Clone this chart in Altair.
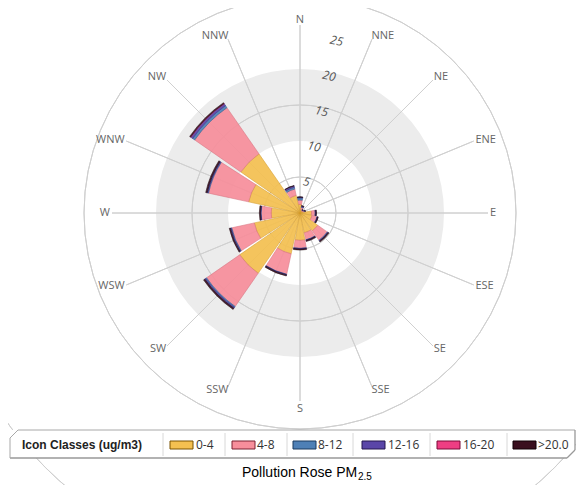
import math
import altair as alt
import pandas as pd

# ---------------- data ----------------
directions = ["N", "NNE", "NE", "ENE", "E", "ESE", "SE", "SSE",
              "S", "SSW", "SW", "WSW", "W", "WNW", "NW", "NNW"]
classes = ["0-4", "4-8", "8-12", "12-16", "16-20", ">20.0"]
class_fill = ["#F4C050", "#F78E9B", "#4E80B6", "#5A46A8", "#EE3E83", "#3A0F1E"]
class_edge = ["#D49A28", "#D9707E", "#2F5E90", "#3C2A86", "#C02060", "#1E0610"]
swatch_edge = ["#7A5200", "#7A2030", "#1A3A5E", "#24164F", "#7A0A38", "#100005"]

c_0_4 = [1.2, 0.5, 0.3, 0.4, 1.6, 1.7, 3.0, 2.8, 3.8, 5.8, 10.2, 6.5, 4.0, 7.3, 10.0, 2.5]
c_4_8 = [0.6, 0.3, 0.15, 0.2, 0.5, 0.7, 1.6, 1.0, 1.1, 2.9, 5.6, 3.2, 1.4, 5.7, 7.8, 0.9]
c_8_12 = [0.3, 0.1, 0.05, 0.05, 0.05, 0.05, 0.1, 0.05, 0.05, 0.05, 0.15, 0.1, 0.05, 0.1, 0.35, 0.25]
c_12_16 = [0.1, 0.1, 0.05, 0.1, 0.05, 0.05, 0.05, 0.05, 0.05, 0.05, 0.15, 0.1, 0.05, 0.1, 0.3, 0.2]
c_16_20 = [0, 0, 0, 0, 0, 0, 0, 0, 0, 0, 0, 0, 0, 0, 0.05, 0]
c_gt_20 = [0.05, 0.05, 0.05, 0.05, 0.1, 0.1, 0.15, 0.15, 0.15, 0.15, 0.2, 0.15, 0.15, 0.2, 0.15, 0.05]

ring_values = [5, 10, 15, 20, 25]
ring_labels = ["5", "10", "15", "20", "25"]

# ---------------- layout constants ----------------
CX, CY = 292, 205          # rose centre (chart coords)
R = 180                    # pixel radius of 25
RMAX = 25
PAD = 1.0                  # angular gap per side (deg)
px = RMAX / R              # units per pixel

series = [c_0_4, c_4_8, c_8_12, c_12_16, c_16_20, c_gt_20]
rows = []
for i, d in enumerate(directions):
    base = 0.0
    for k, cls in enumerate(classes):
        v = series[k][i]
        if v <= 0:
            continue
        rows.append({"dir": d, "cls": cls, "t0": i * 22.5 - 11.25 + PAD,
                     "t1": i * 22.5 + 11.25 - PAD, "r0": base, "r1": base + v})
        base += v
seg = pd.DataFrame(rows)

dirs = pd.DataFrame({"dir": directions, "ang": [i * 22.5 for i in range(16)]})
rings = pd.DataFrame({"r": ring_values, "lab": ring_labels})

theta_scale = alt.Scale(domain=[0, 360], range=[0, 2 * math.pi])
rad_scale = alt.Scale(type="linear", domain=[0, RMAX], range=[0, R], zero=True)
cx, cy = alt.value(CX), alt.value(CY)

band = alt.Chart(alt.Data(values=[{}])).mark_arc(
    theta=0, theta2=2 * math.pi, fill="#ececec", stroke=None
).encode(x=cx, y=cy, radius=alt.Radius(datum=20, scale=rad_scale),
         radius2=alt.Radius2(datum=10))

ring_lines = alt.Chart(rings).mark_arc(
    theta=0, theta2=2 * math.pi, filled=False, stroke="#cfcfcf", strokeWidth=1
).encode(x=cx, y=cy, radius=alt.Radius("r:Q", scale=rad_scale))

spokes = alt.Chart(dirs).mark_arc(
    filled=False, stroke="#d0d0d0", strokeWidth=1
).encode(x=cx, y=cy,
         theta=alt.Theta("ang:Q", stack=None, scale=theta_scale),
         theta2="ang:Q",
         radius=alt.Radius(datum=RMAX + 8 * px, scale=rad_scale))

bars = alt.Chart(seg).mark_arc(strokeWidth=0.6, opacity=0.92).encode(
    x=cx, y=cy,
    theta=alt.Theta("t0:Q", stack=None, scale=theta_scale),
    theta2="t1:Q",
    radius=alt.Radius("r1:Q", scale=rad_scale),
    radius2="r0:Q",
    fill=alt.Fill("cls:N", scale=alt.Scale(domain=classes, range=class_fill), legend=None),
    stroke=alt.Stroke("cls:N", scale=alt.Scale(domain=classes, range=class_edge), legend=None),
)

ring_text = alt.Chart(rings).mark_text(
    font="Open Sans", fontStyle="italic", fontSize=12, color="#555555", angle=12,
    radiusOffset=-4
).encode(x=cx, y=cy,
         theta=alt.Theta(datum=12, stack=None, scale=theta_scale),
         radius=alt.Radius("r:Q", scale=rad_scale), text="lab:N")

lab_r = RMAX + 12 * px
dir_font = dict(font="Open Sans", fontSize=11, color="#666666")
right_lab = alt.Chart(dirs).transform_filter("datum.ang > 0 && datum.ang < 180").mark_text(
    align="left", baseline="middle", dx=-2, **dir_font
).encode(x=cx, y=cy, theta=alt.Theta("ang:Q", stack=None, scale=theta_scale),
         radius=alt.Radius(datum=lab_r, scale=rad_scale), text="dir:N")
left_lab = alt.Chart(dirs).transform_filter("datum.ang > 180").mark_text(
    align="right", baseline="middle", dx=2, **dir_font
).encode(x=cx, y=cy, theta=alt.Theta("ang:Q", stack=None, scale=theta_scale),
         radius=alt.Radius(datum=lab_r, scale=rad_scale), text="dir:N")
n_lab = alt.Chart(dirs).transform_filter("datum.ang == 0").mark_text(
    align="center", baseline="bottom", dy=4, **dir_font
).encode(x=cx, y=cy, theta=alt.Theta("ang:Q", stack=None, scale=theta_scale),
         radius=alt.Radius(datum=lab_r, scale=rad_scale), text="dir:N")
s_lab = alt.Chart(dirs).transform_filter("datum.ang == 180").mark_text(
    align="center", baseline="top", dy=-2, **dir_font
).encode(x=cx, y=cy, theta=alt.Theta("ang:Q", stack=None, scale=theta_scale),
         radius=alt.Radius(datum=lab_r, scale=rad_scale), text="dir:N")

# ---------------- legend box ----------------
one = alt.Data(values=[{}])
L, Rt, T, B, CH = 2, 567, 422, 450, 8


def rule(x1, y1, x2, y2, color="#a8a8a8", w=1):
    return alt.Chart(one).mark_rule(color=color, strokeWidth=w).encode(
        x=alt.value(x1), y=alt.value(y1), x2=alt.value(x2), y2=alt.value(y2))


legend_layers = [
    alt.Chart(one).mark_rect(fill="white").encode(
        x=alt.value(L), x2=alt.value(Rt), y=alt.value(T), y2=alt.value(B)),
    rule(L + CH, T, Rt, T), rule(Rt, T, Rt, B - CH, "#999999", 1.3),
    rule(Rt, B - CH, Rt - CH, B, "#999999", 1.3), rule(L, B, Rt - CH, B, "#999999", 1.3),
    rule(L, T + CH, L, B), rule(L, T + CH, L + CH, T),
    alt.Chart(one).mark_text(text="Icon Classes (ug/m3)", font="Liberation Sans",
                             fontWeight="bold", fontSize=12, color="#222222",
                             align="left", baseline="middle").encode(
        x=alt.value(14), y=alt.value(437)),
]
div_x = [155, 217, 279, 345, 422, 499]
sw_x = [162, 224, 285, 354, 429, 505]
lb_x = [188, 249, 310, 380, 455, 530]
for k in range(6):
    legend_layers.append(rule(div_x[k], T + 3, div_x[k], B - 2, "#d8d8d8"))
    legend_layers.append(alt.Chart(one).mark_rect(
        fill=class_fill[k], stroke=swatch_edge[k], strokeWidth=1).encode(
        x=alt.value(sw_x[k]), x2=alt.value(sw_x[k] + 23),
        y=alt.value(433), y2=alt.value(441)))
    legend_layers.append(alt.Chart(one).mark_text(
        text=classes[k], font="Open Sans", fontSize=12, color="#333333",
        align="left", baseline="middle").encode(x=alt.value(lb_x[k]), y=alt.value(437)))

title_main = alt.Chart(one).mark_text(
    text="Pollution Rose PM", font="Liberation Sans", fontSize=14, color="#000000",
    align="left", baseline="alphabetic").encode(x=alt.value(234), y=alt.value(469))
title_sub = alt.Chart(one).mark_text(
    text="2.5", font="Liberation Sans", fontSize=10, color="#000000",
    align="left", baseline="alphabetic").encode(x=alt.value(350), y=alt.value(472))

chart = alt.layer(
    band, ring_lines, spokes, bars, ring_text, right_lab, left_lab, n_lab, s_lab,
    *legend_layers, title_main, title_sub
).properties(width=568, height=477, autosize="none", padding=0
).configure_view(stroke=None)

chart.save("out.html", embed_options={"renderer": "svg", "actions": False})
